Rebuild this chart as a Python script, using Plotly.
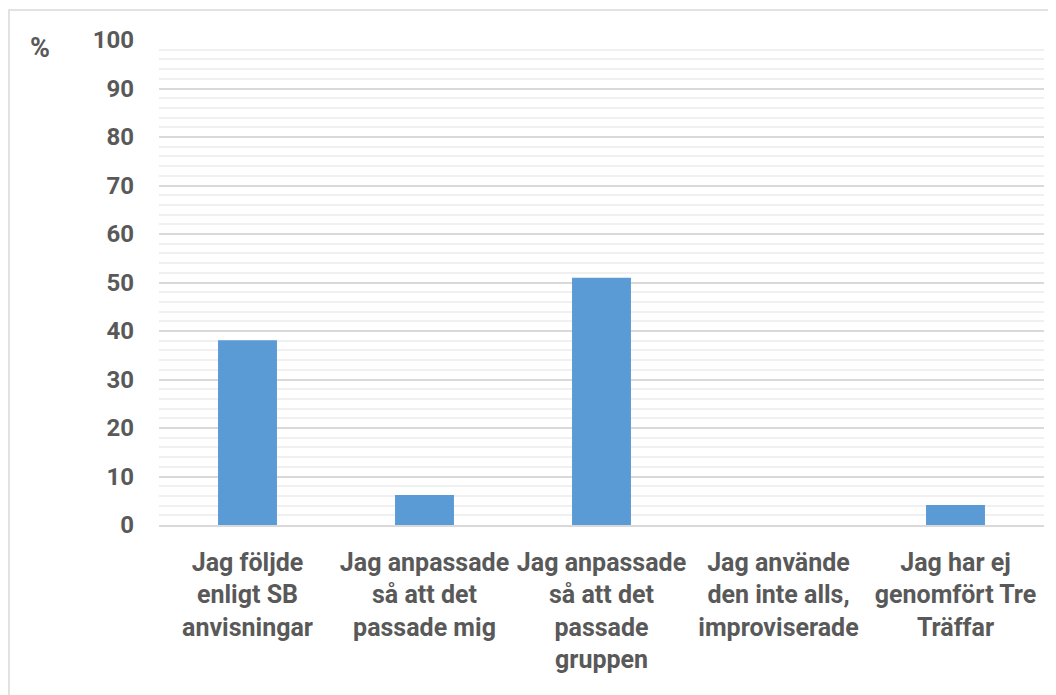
import plotly.graph_objects as go

categories = [
    "Jag följde<br>enligt SB<br>anvisningar",
    "Jag anpassade<br>så att det<br>passade mig",
    "Jag anpassade<br>så att det<br>passade<br>gruppen",
    "Jag använde<br>den inte alls,<br>improviserade",
    "Jag har ej<br>genomfört Tre<br>Träffar",
]
values = [38.1, 6.2, 51.0, 0, 4.1]
y_ticks = list(range(0, 101, 10))

# page has an 8px body margin; coordinates below are svg-relative
W, H = 1056, 695
L, R, T, B = 151, 20, 32, 178
pw, ph = W - L - R, H - T - B

font_fam = "Roboto, 'Liberation Sans', sans-serif"
txt_col = "#595959"

fig = go.Figure(go.Bar(
    x=categories, y=values, marker=dict(color="#5b9bd5", line=dict(width=0)),
))

fig.update_layout(
    width=W, height=H,
    margin=dict(l=L, r=R, t=T, b=B, autoexpand=False),
    paper_bgcolor="white", plot_bgcolor="white",
    bargap=0.667,
    showlegend=False,
    font=dict(family=font_fam, size=24, color=txt_col, weight="bold"),
)
fig.update_yaxes(
    range=[0, 100], tickvals=y_ticks, showgrid=True,
    gridcolor="#d9d9d9", gridwidth=1.5,
    minor=dict(dtick=2, showgrid=True, gridcolor="#f0f0f0", gridwidth=1.5),
    zeroline=False, showline=False, ticks="",
    ticklabelstandoff=24,
    tickfont=dict(family=font_fam, size=24, color=txt_col, weight="bold"),
    fixedrange=True,
)
fig.update_xaxes(
    showgrid=False, showline=True, linecolor="#d9d9d9", linewidth=1.5,
    ticks="", ticklabelstandoff=14,
    tickfont=dict(family=font_fam, size=25, color=txt_col, weight="bold"),
    tickangle=0,
)

# outer chart border
fig.add_shape(type="rect", xref="paper", yref="paper",
              x0=(1 - L) / pw, x1=(W + 10 - L) / pw,
              y0=-(B + 10) / ph, y1=(H - B - 2) / ph,
              line=dict(color="#d9d9d9", width=1.5), fillcolor="rgba(0,0,0,0)",
              layer="below")

fig.add_annotation(text="%", xref="paper", yref="paper",
                   x=(32 - L) / pw, y=(H - B - 40) / ph,
                   showarrow=False, xanchor="center", yanchor="middle",
                   font=dict(family=font_fam, size=27, color=txt_col, weight="bold"))

fig.write_html("out.html")
